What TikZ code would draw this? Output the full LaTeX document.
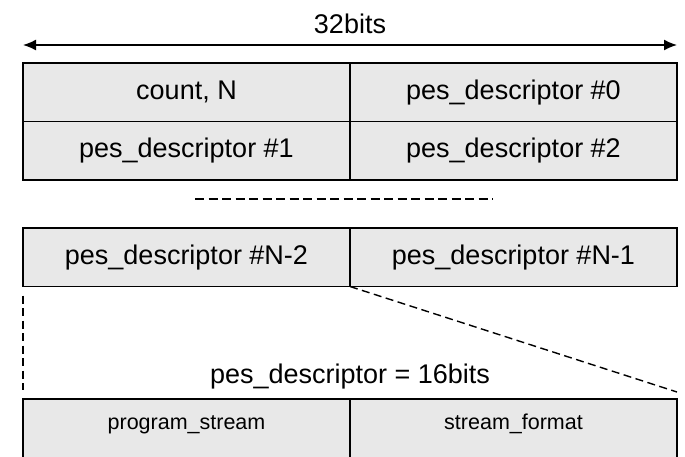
\documentclass[tikz,border=0pt]{standalone}
\usepackage{fontspec}
\setmainfont{Liberation Sans}
\usetikzlibrary{positioning,arrows.meta}
\definecolor{cellgray}{HTML}{E8E8E8}
\tikzset{cell/.style={
    draw=black,
    line width=1.8pt,
    fill=cellgray,
    minimum width=327pt,
    minimum height=58.5pt,
    inner sep=0pt,
    outer sep=0pt,
    text height=19.5pt,
    text depth=5.5pt,
    font=\fontsize{27}{32}\selectfont}}
\tikzset{subcell/.style={
    draw=black,
    line width=1.8pt,
    fill=cellgray,
    minimum width=327pt,
    inner sep=0pt,
    outer sep=0pt,
    text height=30pt,
    text depth=30pt,
    font=\fontsize{21.5}{26}\selectfont}}
\tikzset{widtharrow/.style={
    line width=1.5pt,
    {Latex[length=13pt,width=11pt]}-{Latex[length=13pt,width=11pt]}}}
\tikzset{gapline/.style={
    line width=1.8pt,
    dash pattern=on 9pt off 4.5pt}}
\tikzset{zoomline/.style={
    line width=1.4pt,
    dash pattern=on 8pt off 4.5pt}}
\tikzset{caption/.style={
    font=\fontsize{27}{32}\selectfont,
    inner sep=0pt}}

\begin{document}
\begin{tikzpicture}[x=1pt,y=-1pt]
\path[clip,use as bounding box] (0,0) rectangle (685,456);

% the 32 bit table
\node[cell,anchor=north west] (cnt) at (23,63) {count, N};
\node[cell,right=0pt of cnt] (d0) {pes\_descriptor \#0};
\node[cell,below=0pt of cnt] (d1) {pes\_descriptor \#1};
\node[cell,right=0pt of d1] (d2) {pes\_descriptor \#2};

\node[cell,below=48pt of d1] (dn2) {pes\_descriptor \#N-2};
\node[cell,right=0pt of dn2] (dn1) {pes\_descriptor \#N-1};

% one descriptor, 16 bits
\node[subcell,anchor=north] (ps) at (186.5,399) {program\_stream};
\node[subcell,right=0pt of ps] (sf) {stream\_format};

% width arrow
\coordinate (wl) at (23,45);
\coordinate (wr) at (677,45);
\draw[widtharrow] (wl) -- (wr);
\node[caption] (bits32) at (350,24) {32bits};

% rows left out
\coordinate (gl) at (195,199);
\coordinate (gr) at (493,199);
\draw[gapline] (gl) -- (gr);

% zoom onto one descriptor
\node[caption,anchor=base] (bits16) at (350,383) {pes\_descriptor = 16bits};
\draw[zoomline] ([yshift=-9pt]dn2.south west) -- ([yshift=9pt]ps.north west);
\draw[zoomline] (dn2.south east) -- ([yshift=7pt]sf.north east);

\end{tikzpicture}
\end{document}
